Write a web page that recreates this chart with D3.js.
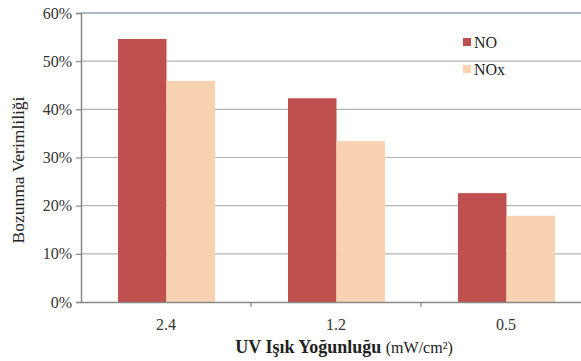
<!DOCTYPE html>
<html>
<head>
<meta charset="utf-8">
<script src="https://cdn.jsdelivr.net/npm/d3@7"></script>
<style>
  html, body { margin: 0; padding: 0; background: #fff; overflow: hidden; }
  svg text { font-family: "Liberation Serif", "DejaVu Serif", serif; }
</style>
</head>
<body>
<svg id="chart" width="581" height="361"></svg>
<script>
// UV light intensity categories and degradation efficiency (%) per species
const categories = ["2.4", "1.2", "0.5"];
const seriesNames = ["NO", "NOx"];
const noValues = [54.6, 42.3, 22.6];
const noxValues = [45.9, 33.4, 17.9];
const yTicks = [0, 10, 20, 30, 40, 50, 60];
const colors = ["#C0504D", "#F9D3B1"];

const FONT = "Liberation Serif, DejaVu Serif, serif";
const svg = d3.select("#chart");
const margin = { left: 81, top: 13, bottom: 59 };
const plotW = 510;            // plot runs past the right edge of the page
const plotH = 361 - margin.top - margin.bottom;

const g = svg.append("g").attr("transform", `translate(${margin.left},${margin.top})`);

const x = d3.scaleBand().domain(categories).range([0, plotW]).paddingInner(0).paddingOuter(0);
const xs = d3.scaleBand().domain(seriesNames).range([37, 37 + 97]);
const y = d3.scaleLinear().domain([0, 60]).range([plotH, 0]);

// horizontal gridlines
g.selectAll("line.grid").data(yTicks.filter(t => t > 0 && t < 60)).join("line")
  .attr("class", "grid")
  .attr("x1", 0).attr("x2", plotW)
  .attr("y1", d => y(d)).attr("y2", d => y(d))
  .attr("stroke", "#b4b4b4").attr("stroke-width", 1.2);

// top border of plot area
g.append("line").attr("x1", 0).attr("x2", plotW).attr("y1", 0).attr("y2", 0)
  .attr("stroke", "#8ea3b8").attr("stroke-width", 1.5);

// bars
const data = categories.map((c, i) => ({ cat: c, vals: [noValues[i], noxValues[i]] }));
g.selectAll("g.cat").data(data).join("g")
  .attr("class", "cat")
  .attr("transform", d => `translate(${x(d.cat)},0)`)
  .selectAll("rect").data(d => d.vals.map((v, j) => ({ s: seriesNames[j], v, j })))
  .join("rect")
  .attr("x", d => xs(d.s))
  .attr("width", xs.bandwidth())
  .attr("y", d => y(d.v))
  .attr("height", d => plotH - y(d.v))
  .attr("fill", d => colors[d.j]);

// y axis
const yAxis = g.append("g").call(
  d3.axisLeft(y).tickValues(yTicks).tickFormat(d => d + "%").tickSize(5).tickPadding(4)
);
yAxis.attr("font-family", FONT);
yAxis.select(".domain").attr("stroke", "#888").attr("stroke-width", 1.5);
yAxis.selectAll(".tick line").attr("stroke", "#888").attr("stroke-width", 1.2);
yAxis.selectAll(".tick text").attr("font-size", 16).attr("fill", "#333")
  .attr("font-family", FONT);

// x axis
const xAxis = g.append("g").attr("transform", `translate(0,${plotH})`).call(
  d3.axisBottom(x).tickSize(0).tickPadding(17)
);
xAxis.attr("font-family", FONT);
xAxis.select(".domain").attr("stroke", "#888").attr("stroke-width", 1.5);
xAxis.selectAll(".tick text").attr("font-size", 16).attr("fill", "#333")
  .attr("font-family", FONT);
// category boundary ticks
g.selectAll("line.xt").data(categories.slice(1)).join("line")
  .attr("class", "xt")
  .attr("x1", d => x(d)).attr("x2", d => x(d))
  .attr("y1", plotH).attr("y2", plotH + 5)
  .attr("stroke", "#888").attr("stroke-width", 1.2);

// axis titles
svg.append("text")
  .attr("transform", "translate(24,170) rotate(-90)")
  .attr("text-anchor", "middle")
  .attr("font-family", FONT)
  .attr("font-size", 17.5).attr("fill", "#222")
  .text("Bozunma Verimliliği");

const xt = svg.append("text")
  .attr("x", 344).attr("y", 353)
  .attr("text-anchor", "middle").attr("fill", "#222")
  .attr("font-family", FONT);
xt.append("tspan").attr("font-size", 18).attr("font-weight", "bold").text("UV Işık Yoğunluğu ");
xt.append("tspan").attr("font-size", 16).text("(mW/cm²)");

// legend
const legend = svg.append("g").attr("transform", "translate(463,36)");
seriesNames.forEach((s, i) => {
  const row = legend.append("g").attr("transform", `translate(0,${i * 27})`);
  row.append("rect").attr("x", 0).attr("y", 2).attr("width", 8).attr("height", 8).attr("fill", colors[i]);
  row.append("text").attr("x", 11).attr("y", 12).attr("font-family", FONT)
    .attr("font-size", 16).attr("fill", "#222").text(s);
});
</script>
</body>
</html>
